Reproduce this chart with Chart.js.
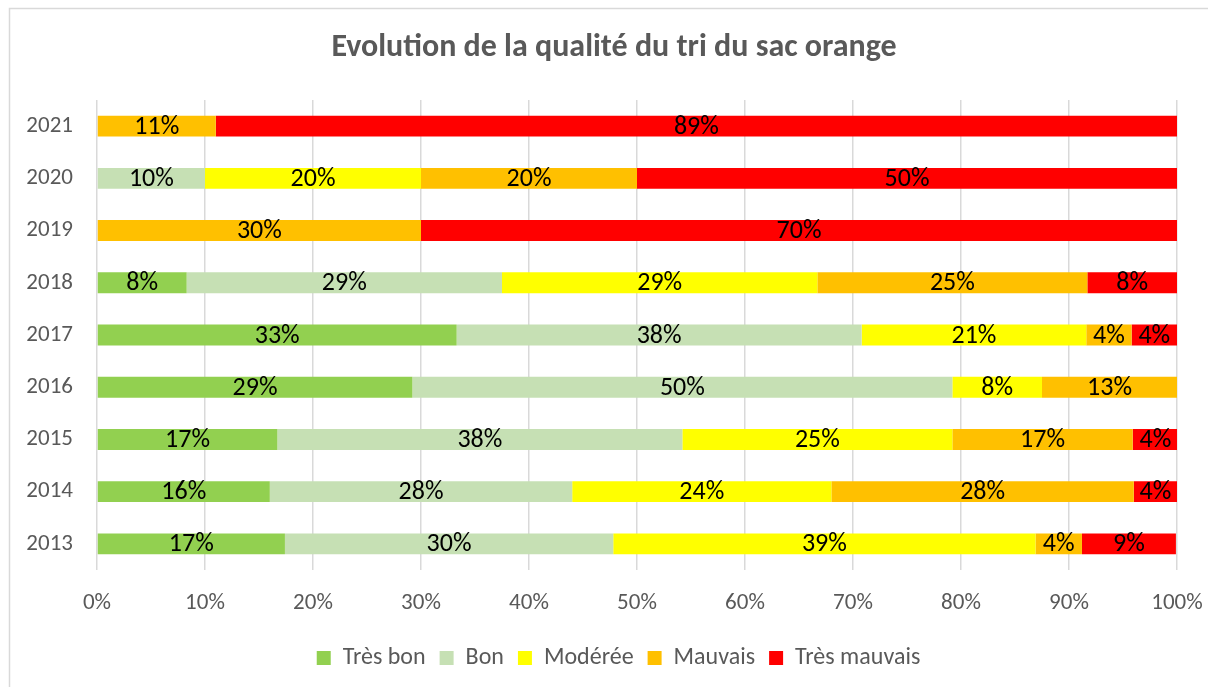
<!DOCTYPE html>
<html>
<head>
<meta charset="utf-8">
<script src="https://cdn.jsdelivr.net/npm/chart.js"></script>
<style>
  body { margin: 0; background: #fff; }
  #wrap { width: 1208px; height: 687px; }
</style>
</head>
<body>
<div id="wrap"><canvas id="myChart" width="1208" height="687"></canvas></div>
<script>
// annees, de 2013 a 2021 (2013 en bas)
const years = ['2013', '2014', '2015', '2016', '2017', '2018', '2019', '2020', '2021'];

// parts en % par niveau de qualite
const tresBon     = [17.4, 16, 16.7, 29.2, 33.3, 8.3, 0, 0, 0];
const bon         = [30.4, 28, 37.5, 50, 37.5, 29.2, 0, 10, 0];
const moderee     = [39.1, 24, 25, 8.3, 20.8, 29.2, 0, 20, 0];
const mauvais     = [4.3, 28, 16.7, 12.5, 4.2, 25, 30, 20, 11];
const tresMauvais = [8.7, 4, 4.2, 0, 4.2, 8.3, 70, 50, 89];

const xTicks = [0, 10, 20, 30, 40, 50, 60, 70, 80, 90, 100];

const TITLE = 'Evolution de la qualité du tri du sac orange';
const FONT = 'Carlito, Calibri, Lato, sans-serif';
const GREY = '#595959';

// cadre (bord gauche et haut) + titre
const frame = {
    id: 'frame',
    afterLayout(chart) {
        // legende un peu decalee vers la droite comme dans l'original
        chart.legend.left += 30;
        chart.legend.right += 30;
    },
    beforeDraw(chart) {
        const c = chart.ctx;
        c.save();
        c.strokeStyle = '#d9d9d9';
        c.lineWidth = 1.5;
        c.beginPath();
        c.moveTo(9.5, 700);
        c.lineTo(9.5, 8.5);
        c.lineTo(1220, 8.5);
        c.stroke();
        c.font = 'bold 32px ' + FONT;
        c.fillStyle = GREY;
        c.textAlign = 'center';
        c.textBaseline = 'middle';
        c.fillText(TITLE, 614, 48);
        c.restore();
    }
};

// etiquettes de valeur au centre de chaque segment
const valueLabels = {
    id: 'valueLabels',
    afterDatasetsDraw(chart) {
        const c = chart.ctx;
        c.save();
        c.font = '26px ' + FONT;
        c.fillStyle = '#000';
        c.textAlign = 'center';
        c.textBaseline = 'middle';
        chart.data.datasets.forEach(function (ds, i) {
            const meta = chart.getDatasetMeta(i);
            meta.data.forEach(function (bar, j) {
                const v = ds.data[j];
                if (!v) return;
                c.fillText(Math.round(v) + '%', (bar.x + bar.base) / 2, bar.y + 1);
            });
        });
        c.restore();
    }
};

const ctx = document.getElementById('myChart').getContext('2d');
new Chart(ctx, {
    type: 'bar',
    data: {
        labels: years,
        datasets: [
            { label: 'Très bon', data: tresBon, backgroundColor: '#92D050' },
            { label: 'Bon', data: bon, backgroundColor: '#C6E0B4' },
            { label: 'Modérée', data: moderee, backgroundColor: '#FFFF00' },
            { label: 'Mauvais', data: mauvais, backgroundColor: '#FFC000' },
            { label: 'Très mauvais', data: tresMauvais, backgroundColor: '#FF0000' }
        ]
    },
    options: {
        indexAxis: 'y',
        responsive: false,
        animation: false,
        categoryPercentage: 1,
        barPercentage: 0.4,
        layout: { padding: { left: 0, right: 31, top: 100, bottom: 7 } },
        scales: {
            x: {
                stacked: true,
                min: 0,
                max: 100,
                afterBuildTicks: function (axis) {
                    axis.ticks = xTicks.map(function (v) { return { value: v }; });
                },
                grid: { color: '#d9d9d9', lineWidth: 1.5, drawTicks: false },
                border: { display: false },
                ticks: {
                    color: GREY,
                    font: { family: FONT, size: 23 },
                    padding: 19,
                    maxRotation: 0,
                    callback: function (v) { return v + '%'; }
                },
                afterFit: function (axis) {
                    axis.height = 62;
                    axis.paddingLeft = 0;
                    axis.paddingRight = 0;
                }
            },
            y: {
                stacked: true,
                reverse: true,
                grid: { display: false, drawTicks: false },
                border: { display: false },
                ticks: {
                    color: GREY,
                    font: { family: FONT, size: 23 },
                    padding: 24
                },
                afterFit: function (axis) { axis.width = 97; }
            }
        },
        plugins: {
            title: { display: false },
            legend: {
                position: 'bottom',
                labels: {
                    color: GREY,
                    font: { family: FONT, size: 24 },
                    boxWidth: 14,
                    boxHeight: 14,
                    padding: 14
                }
            },
            tooltip: { enabled: false }
        }
    },
    plugins: [frame, valueLabels]
});
</script>
</body>
</html>
